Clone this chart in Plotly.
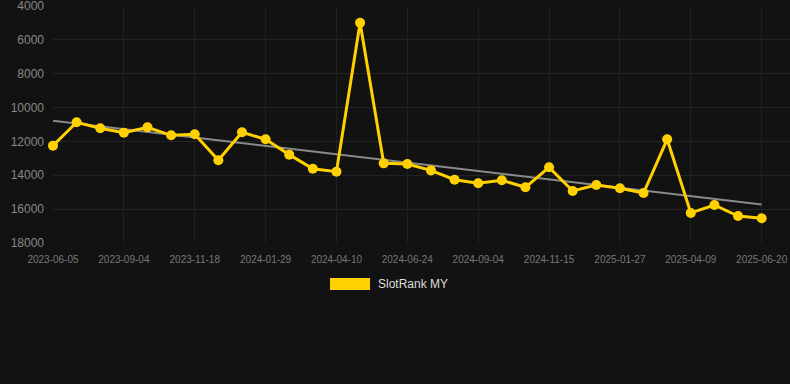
import plotly.graph_objects as go

dates = [
    "2023-06-05", "2023-07-05", "2023-08-04", "2023-09-04", "2023-09-29", "2023-10-24",
    "2023-11-18", "2023-12-12", "2024-01-05", "2024-01-29", "2024-02-22", "2024-03-17",
    "2024-04-10", "2024-05-05", "2024-05-30", "2024-06-24", "2024-07-18", "2024-08-11",
    "2024-09-04", "2024-09-28", "2024-10-22", "2024-11-15", "2024-12-09", "2025-01-03",
    "2025-01-27", "2025-02-20", "2025-03-16", "2025-04-09", "2025-05-03", "2025-05-27",
    "2025-06-20",
]
rank = [
    12250, 10870, 11225, 11480, 11165, 11640, 11580, 13115, 11460, 11875, 12780,
    13610, 13785, 4985, 13295, 13330, 13710, 14260, 14475, 14295, 14710, 13530,
    14925, 14575, 14770, 15045, 11875, 16225, 15755, 16405, 16540,
]
trend_ends = [10780, 15730]
tick_labels = dates[::3]
y_ticks = [4000, 6000, 8000, 10000, 12000, 14000, 16000, 18000]
y_tick_text = [str(v) for v in y_ticks]

gold = "#FFD100"
bg = "#121212"

fig = go.Figure()
fig.add_trace(go.Scatter(
    x=[dates[0], dates[-1]], y=trend_ends, mode="lines",
    line=dict(color="#8a8a8a", width=2), showlegend=False, hoverinfo="skip",
))
fig.add_trace(go.Scatter(
    x=dates, y=rank, mode="lines+markers", name="SlotRank MY",
    line=dict(color=gold, width=3),
    marker=dict(color=gold, size=10),
    showlegend=False, cliponaxis=False,
))

fig.update_layout(
    width=790, height=384,
    paper_bgcolor=bg, plot_bgcolor=bg,
    margin=dict(l=53, r=0, t=6, b=141),
    font=dict(family="Liberation Sans, Arial, sans-serif", color="#888"),
    xaxis=dict(
        type="category", categoryorder="array", categoryarray=dates,
        range=[0, 31.2],
        tickmode="array", tickvals=tick_labels, ticktext=tick_labels,
        tickfont=dict(size=10, color="#777"),
        showgrid=True, gridcolor="#202020", gridwidth=1,
        zeroline=False, showline=False, ticks="", ticklen=0,
        ticklabelstandoff=9,
    ),
    yaxis=dict(
        range=[18000, 4000], tickmode="array", tickvals=y_ticks, ticktext=y_tick_text,
        tickfont=dict(size=12, color="#888"),
        showgrid=True, gridcolor="#232323", gridwidth=1,
        zeroline=False, showline=False, ticks="", ticklabelstandoff=8,
        ticklabeloverflow="allow",
    ),
    shapes=[dict(
        type="rect", xref="paper", yref="paper",
        x0=(330 - 53) / 737, x1=(370 - 53) / 737,
        y0=-(290 - 243) / 237, y1=-(278 - 243) / 237,
        fillcolor=gold, line=dict(width=0),
    )],
    annotations=[dict(
        text="SlotRank MY", xref="paper", yref="paper",
        x=(376 - 53) / 737, y=-(284 - 243) / 237,
        xanchor="left", yanchor="middle", showarrow=False,
        font=dict(size=12, color="#ddd"),
    )],
)

fig.write_html("out.html")
